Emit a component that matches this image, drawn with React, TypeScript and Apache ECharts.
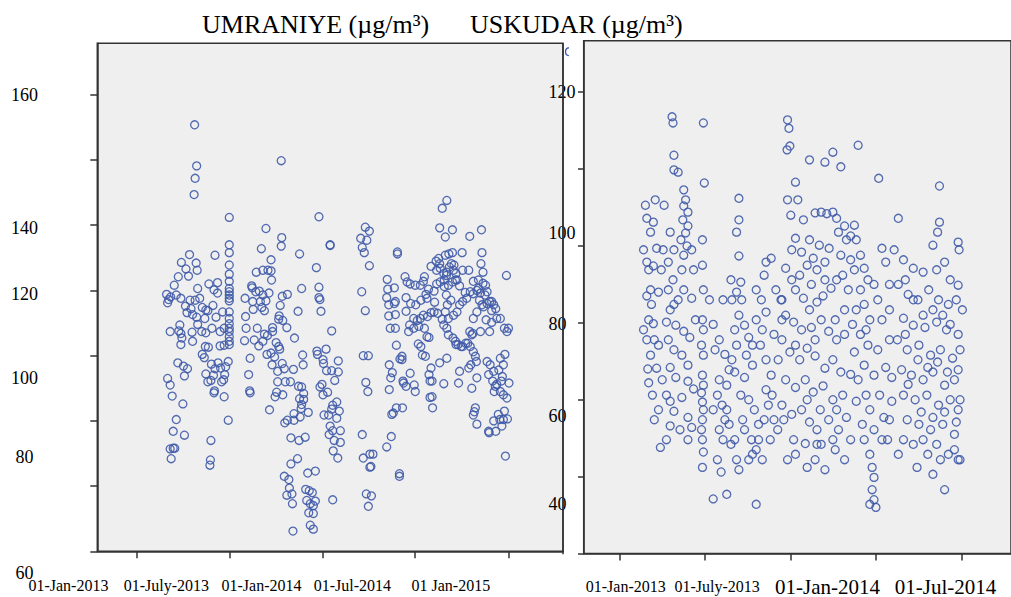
import React, { useEffect, useRef } from "react";
import * as echarts from "echarts";

// x = days since 01-Jan-2013, y = concentration (µg/m³)
const umraniyeReadings: [number, number][] = [
  [113,155.4],[117,149.1],[114,147.2],[112,144.7],[283,149.9],[181,141.2],[253,139.5],[284,138.1],[283,136.8],[244,136.4],
  [181,137.0],[181,135.8],[319,135.6],[103,135.5],[153,135.4],[263,134.7],[87,134.3],[116,134.2],[181,133.9],[96,133.3],
  [118,133.1],[234,132.8],[247,133.1],[257,133.1],[263,133.0],[81,132.1],[101,132.2],[181,132.5],[264,131.6],[181,131.4],
  [141,131.0],[158,131.2],[73,130.8],[225,130.7],[119,130.3],[323,130.3],[181,130.3],[181,129.8],[181,129.3],[181,128.8],
  [181,128.4],[151,130.1],[158,129.6],[58,129.4],[77,129.3],[66,129.0],[226,130.4],[233,129.8],[240,129.9],[247,129.3],
  [259,129.6],[285,129.1],[295,129.4],[212,128.8],[60,128.1],[62,128.6],[86,128.8],[104,128.5],[114,128.5],[123,128.8],
  [227,128.3],[242,128.3],[253,128.4],[281,127.7],[95,127.6],[106,127.2],[128,127.4],[135,127.0],[139,126.9],[149,127.7],
  [245,127.4],[250,126.9],[228,127.1],[168,126.7],[181,126.7],[316,126.8],[98,126.6],[109,126.3],[117,125.9],[133,125.7],
  [155,125.9],[213,126.0],[279,126.1],[278,125.6],[286,125.4],[181,125.7],[181,124.9],[181,124.2],[181,123.7],[181,122.9],
  [181,122.2],[181,121.7],[119,124.8],[84,124.7],[82,123.8],[86,123.4],[65,123.7],[108,123.6],[127,123.7],[135,123.5],
  [214,124.2],[236,124.2],[266,124.3],[266,123.7],[294,124.3],[147,124.2],[163,123.7],[171,124.2],[250,123.3],[256,123.1],
  [309,122.7],[211,122.3],[230,122.4],[88,122.7],[86,121.7],[109,122.2],[134,121.4],[140,121.3],[163,121.5],[171,121.6],
  [239,121.5],[247,122.2],[273,122.0],[278,121.4],[280,121.0],[128,120.2],[132,119.7],[255,120.2],[263,120.4],[270,119.8],
  [325,120.1],[179,119.1],[222,119.6],[80,118.9],[91,118.4],[99,118.0],[146,118.7],[159,118.9],[285,118.8],[289,118.0],
  [265,118.6],[326,118.6],[307,117.9],[153,118.0],[164,118.1],[174,118.3],[276,117.6],[93,116.9],[135,117.2],[150,117.0],
  [172,117.1],[219,117.1],[60,116.5],[65,115.5],[139,116.0],[145,116.2],[166,116.0],[170,116.3],[276,116.0],[291,116.0],
  [301,116.0],[317,115.3],[323,115.2],[221,114.6],[222,114.3],[151,114.3],[152,114.6],[274,114.4],[271,113.7],[286,114.0],
  [69,113.8],[171,113.7],[319,113.4],[327,113.3],[327,114.2],[323,112.5],[90,112.6],[260,111.7],[322,111.9],[336,111.3],
  [308,111.1],[77,110.2],[179,110.1],[290,109.7],[295,110.1],[308,110.1],[320,110.6],[71,108.4],[93,107.8],[145,107.0],
  [302,107.4],[318,107.0],[330,107.5],[65,105.7],[71,105.8],[74,105.8],[67,104.2],[144,104.0],[143,103.2],[315,104.2],
  [302,103.4],[289,101.5],[298,101.0],[335,102.0],[350,102.3],[299,99.7],[294,98.6],[304,98.8],[305,97.3],[331,99.5],
  [338,99.3],[344,99.0],[333,97.8],[340,97.3],[346,97.0],[337,95.9],[350,97.7],[346,95.8],[306,93.1],[340,94.0],[346,93.4],
  [357,141.3],[352,133.5],[357,130.5],[357,128.9],[359,128.6],[361,126.8],[379,137.0],[379,136.9],[382,123.8],[353,120.7],
  [354,120.2],[365,119.4],[366,118.8],[372,117.7],[371,121.0],[382,117.7],[395,119.2],[395,117.5],[388,116.2],[363,115.6],
  [359,115.2],[365,114.0],[374,114.4],[367,110.9],[376,110.9],[392,112.9],[397,111.5],[392,110.4],[384,112.4],[382,111.8],
  [379,109.2],[384,108.5],[377,107.9],[387,107.0],[399,108.5],[399,106.7],[385,105.4],[394,104.3],[384,97.9],
  [448,139.7],[456,139.1],[439,138.0],[451,137.7],[442,136.6],[446,135.8],[456,133.8],[441,129.8],[448,126.9],[444,120.0],
  [454,120.0],[449,115.9],[453,114.5],[442,107.9],[444,104.3],[457,104.9],[463,104.9],[457,102.9],[459,103.0],[450,98.8],
  [460,98.5],[454,96.9],[491,131.7],[492,130.2],[490,128.9],[494,127.8],[494,126.1],[497,124.2],[505,130.4],[507,128.3],
  [507,126.3],[507,124.2],[511,135.9],[511,135.6],[495,118.6],[501,117.4],[498,116.6],[495,114.8],[500,111.0],[503,111.2],
  [509,112.0],[521,112.0],[499,107.6],[490,106.0],[515,101.9],[515,101.5],[509,121.6],[520,119.9],[516,119.5],[520,119.4],
  [523,115.8],[505,128.0],
  [526,132.1],[530,131.3],[536,131.0],[546,130.8],[556,130.8],[564,132.1],[562,131.4],[528,128.9],[528,126.8],[537,128.0],
  [547,127.8],[557,128.5],[569,128.8],[567,129.4],[572,130.2],[583,129.9],[588,131.0],[595,131.3],[611,130.8],[619,131.3],
  [577,133.7],[587,134.5],[588,133.1],[595,133.4],[592,134.9],[594,134.1],[602,132.6],[608,132.8],[605,135.4],[612,135.6],
  [619,135.8],[617,134.1],[622,133.9],[626,132.6],[625,131.6],[639,133.1],[651,133.1],[638,135.8],[619,139.3],[594,139.6],
  [605,138.2],[599,142.6],[608,143.8],[653,138.3],[676,139.3],[677,135.8],[675,134.1],[679,132.8],[670,130.3],[684,130.8],
  [660,129.5],[672,128.5],[680,127.5],[687,128.0],[692,128.3],[696,126.9],[685,125.5],[696,125.1],[692,123.7],[674,123.7],
  [657,123.2],[649,121.9],[639,121.4],[630,121.7],[625,122.2],[620,122.7],[611,123.2],[608,124.2],[602,124.7],[599,125.6],
  [590,126.5],[583,126.7],[584,128.2],[577,126.6],[570,126.0],[562,126.2],[556,125.7],[550,125.4],[543,125.7],[535,124.7],
  [533,123.7],[543,124.2],[553,124.5],[564,124.2],[569,122.9],[573,122.8],[557,121.4],[552,121.8],[560,120.1],[566,119.9],
  [577,118.1],[573,117.1],[575,116.1],[579,116.1],[579,113.7],[575,113.6],[580,112.0],[594,118.9],[608,119.6],[626,121.7],
  [636,121.4],[645,121.9],[653,123.7],[660,125.7],[667,126.7],[677,127.8],[683,129.3],[674,129.6],[667,130.0],[654,129.8],
  [644,129.7],[633,130.7],[628,131.6],[621,133.1],[613,133.6],[607,132.3],[603,131.6],[603,130.6],[607,129.3],[616,128.5],
  [609,127.8],[605,126.7],[611,125.7],[621,126.2],[628,126.7],[633,127.8],[639,128.3],[647,128.8],[660,131.4],[670,131.6],
  [679,131.1],[687,129.8],[696,128.3],[700,127.8],[704,127.2],[706,125.7],[713,125.7],[721,124.2],[726,123.7],[729,124.2],
  [722,120.2],[713,119.6],[719,118.6],[710,117.8],[700,117.6],[693,118.6],[687,119.1],[690,117.1],[698,116.1],[706,115.6],
  [715,116.1],[717,116.8],[703,115.3],[701,114.5],[713,114.5],[719,114.0],[726,113.5],[730,115.8],[721,111.5],[709,111.0],
  [700,110.0],[712,110.2],[719,110.2],[727,110.3],[704,108.4],[716,109.2],[690,108.4],[691,108.2],[723,104.6],[664,112.0],
  [662,111.4],[660,110.9],[667,109.5],[657,115.0],[667,116.6],[655,118.6],[651,118.1],[660,120.6],[664,119.9],[666,119.1],
  [659,123.4],[654,121.4],[633,117.6],[631,115.8],[602,115.7],[528,115.3],[544,115.5],[546,114.5],[536,117.3],[522,116.1],
  [725,132.3],
];

const uskudarReadings: [number, number][] = [
  [111,116.8],[113,116.0],[115,111.8],[115,109.9],[124,109.6],[178,116.0],[180,108.2],[54,105.3],[75,106.0],[94,105.3],
  [136,107.3],[140,106.0],[136,105.2],[145,104.4],[57,103.6],[71,103.1],[65,101.8],[78,99.7],[134,103.4],[145,102.6],
  [140,101.7],[130,100.8],[143,100.0],[136,98.8],[107,101.8],[92,99.5],[103,97.9],[115,99.5],[57,97.9],[71,97.4],
  [65,94.3],[57,93.5],[82,94.0],[113,95.6],[132,96.9],[136,94.3],[124,93.0],[153,93.2],[61,90.4],[71,89.9],
  [57,87.8],[82,87.1],[65,85.8],[78,84.1],[61,82.2],[107,91.7],[99,90.1],[119,89.7],[136,88.9],[149,88.1],
  [103,87.8],[115,86.5],[132,85.8],[145,84.5],[107,84.2],[119,82.9],[145,82.4],[157,81.4],[99,80.6],[107,79.8],
  [115,78.5],[132,80.3],[145,77.7],[153,76.4],[128,76.1],[145,74.8],[73,77.4],[86,73.8],[99,74.8],[107,76.6],
  [50,99.5],[61,96.9],[67,92.4],[50,89.1],[73,87.8],[59,84.0],[69,80.6],[82,78.7],[90,82.6],[103,94.3],
  [115,92.4],[153,99.5],[157,96.9],[161,90.4],[88,96.9],
  [176,100.8],[176,97.5],[178,94.3],[176,90.4],[178,89.1],[174,87.1],[178,85.8],[176,83.2],[178,81.9],[174,80.9],
  [176,79.7],[178,78.7],[176,77.4],[174,76.1],[176,74.8],[178,73.2],[176,71.2],
  [203,86.5],[212,82.6],[208,80.6],[218,79.3],[228,78.7],[224,77.4],[233,76.8],[245,74.8],[220,74.8],[208,72.2],
  [216,70.6],[239,85.2],[249,87.1],[245,89.1],[260,93.0],[254,91.0],[266,89.7],[275,88.1],[270,85.8],[283,84.5],
  [266,82.9],[258,80.6],[275,80.0],[287,78.7],[296,76.8],[266,76.1],[281,74.8],[291,73.5],[254,70.9],[249,72.2],
  [258,95.3],[254,98.7],[249,101.8],[254,106.2],[254,103.4],[245,83.6],[228,81.9],[249,94.0],[239,93.0],[291,94.3],
  [302,93.0],[312,91.4],[304,89.1],[300,87.1],[312,85.2],[323,83.2],[312,81.3],[317,79.3],[329,77.4],[321,74.8],
  [304,72.2],[283,72.9],[333,94.3],[344,93.0],[323,98.4],[312,97.9],[199,67.1],[228,67.7],[291,66.4],
  [191,93.0],[199,89.8],[212,87.8],[224,85.9],[233,83.9],[199,78.7],[212,76.1],[237,74.2],[262,77.4],[275,72.2],
  [296,74.8],[308,77.4],[325,80.6],[338,85.2],[346,90.4],[329,88.5],[308,96.2],[291,90.4],[283,87.1],[220,93.0],
  [237,95.6],
  [358,116.4],[361,115.3],[363,113.0],[357,112.5],[375,108.3],[358,106.0],[365,104.0],[375,101.0],[388,99.2],[400,97.5],
  [413,98.4],[421,96.9],[438,97.9],[405,111.2],[438,110.9],[455,112.2],[472,110.3],[417,104.3],[430,104.4],[442,104.2],
  [455,104.4],[463,103.6],[480,102.6],[467,101.8],[484,100.8],[493,101.3],[354,97.1],[367,95.6],[375,94.3],[346,93.0],
  [392,93.2],[405,91.7],[421,92.7],[434,93.5],[451,94.5],[463,95.6],[476,96.2],[488,94.3],[354,91.0],[371,90.1],
  [388,89.1],[409,89.4],[430,90.4],[446,88.9],[463,87.8],[480,88.5],[346,87.8],[363,86.2],[384,85.2],[400,86.7],
  [417,85.7],[438,84.1],[455,85.2],[472,83.6],[354,82.6],[375,81.6],[396,82.6],[413,81.0],[434,81.8],[455,80.0],
  [476,80.6],[346,79.3],[367,78.1],[388,78.7],[405,77.1],[421,76.1],[446,77.4],[467,76.1],[484,77.7],[371,74.8],
  [396,74.3],[430,74.2],[460,73.5],[337,76.1],[358,72.2],[400,71.2],[438,70.9],[480,72.2],[421,74.2],
  [380,106.0],[392,103.4],[405,100.8],[426,100.1],[447,99.7],[472,98.8],[493,98.2],[367,99.5],[384,96.2],[409,95.0],
  [438,95.6],[480,91.7],[497,89.8],[460,90.4],[417,87.8],[375,87.1],[493,83.3],[400,80.0],[428,78.7],[463,78.7],
  [493,74.8],[350,77.4],[375,72.9],[417,72.2],[455,74.8],
  [509,113.1],[553,108.8],[501,102.7],[505,100.8],[514,98.8],[522,97.1],[501,96.9],[530,95.6],[543,95.0],[560,99.7],
  [568,97.9],[551,93.0],[522,92.4],[505,91.7],[534,90.4],[560,90.4],[576,91.7],[514,88.5],[530,87.1],[551,86.5],
  [576,87.8],[501,86.2],[522,84.5],[543,83.2],[568,84.2],[581,82.9],[509,82.6],[526,80.6],[555,80.6],[581,79.8],
  [505,79.8],[534,78.7],[564,77.7],[518,76.8],[543,76.1],[572,74.8],[522,74.8],[534,72.9],[539,71.2],[543,69.9],
  [539,68.3],[543,67.0],[547,66.0],[534,66.4],[514,94.3],[526,89.1],[576,95.0],[576,77.4],[560,74.8],
  [595,103.6],[683,107.8],[683,103.1],[679,101.8],[669,100.1],[723,100.5],[725,99.5],[606,98.2],[627,97.1],[648,96.6],
  [677,96.9],[694,97.9],[706,95.6],[723,94.9],[595,95.0],[616,93.7],[637,93.0],[660,94.3],[681,93.0],[702,92.4],
  [719,93.0],[732,91.7],[606,90.6],[627,89.7],[652,89.4],[677,90.1],[698,89.1],[723,88.5],[593,87.8],[614,86.5],
  [639,87.1],[664,85.8],[685,86.5],[711,85.4],[727,86.5],[602,83.9],[623,83.2],[648,82.6],[669,83.6],[694,81.9],
  [715,82.6],[606,80.6],[631,80.0],[656,80.6],[681,79.3],[706,80.0],[723,78.7],[614,77.4],[639,76.8],[664,76.1],
  [690,76.8],[715,75.5],[627,74.2],[648,74.8],[677,74.2],[702,72.9],[723,72.2],[635,71.2],[694,68.3],[727,72.2],
  [586,99.5],[610,95.6],[627,93.0],[648,91.0],[669,91.7],[690,91.0],[706,89.8],[610,88.5],[637,85.2],[658,84.2],
  [679,84.9],[700,83.6],[723,83.9],[616,82.0],[644,78.4],[669,77.7],[694,78.4],[719,77.1],[606,74.8],[658,72.9],
  [685,72.2],[715,73.5],[595,72.9],[669,70.3],[727,80.0],
];

// axes
const leftTickDays = [0, 181, 365, 546, 730];
const leftXLabels = ["01-Jan-2013", "01-July-2013", "01-Jan-2014", "01-Jul-2014", "01 Jan-2015"];
const leftXLabelEndDays = [-56.2, 141.2, 322.8, 498.4, 693.1]; // right edge of each label
const rightTickDays = [0, 181, 365, 546, 730];
const rightXLabels = ["01-Jan-2013", "01-July-2013", "01-Jan-2014", "01-Jul-2014"];
const rightXLabelDays = [12, 207.5, 443.7, 695.9];
const leftYTicks = [90, 100, 110, 120, 130, 140, 150, 160];
const leftYLabels = ["160", "140", "120", "100", "80", "60"];
const leftYLabelAt = [160, 139.6, 129.4, 116.6, 104.5, 90];
const rightYTicks = [60, 70, 80, 90, 100, 110, 120];
const rightYLabels = ["120", "100", "80", "60", "40"];
const rightYLabelAt = [120, 101.75, 89.8, 77.9, 66.5];

const FONT = "'Liberation Serif', 'Times New Roman', serif";
const POINT = "#3f5aa9";
const AXIS = "#333333";
const rightXSizes = [16, 16, 21, 21];

function nearest(anchors: number[], v: number) {
  let best = 0;
  for (let i = 1; i < anchors.length; i++) {
    if (Math.abs(anchors[i] - v) < Math.abs(anchors[best] - v)) best = i;
  }
  return best;
}

export default function App() {
  const ref = useRef<HTMLDivElement>(null);
  useEffect(() => {
    const chart = echarts.init(ref.current!, null, { renderer: "svg" });
    const rightRich: any = {};
    rightXSizes.forEach((s, i) => {
      rightRich["x" + i] = { fontSize: s, fontFamily: FONT, color: "#000", lineHeight: 24 };
    });
    const lineStyle = { color: AXIS, width: 1.5 };
    const scatterStyle = {
      color: "rgba(0,0,0,0)",
      borderColor: POINT,
      borderWidth: 1.3,
      opacity: 0.9,
    };
    const titleStyle = { fontFamily: FONT, fontSize: 26, fontWeight: "normal", color: "#000" };
    chart.setOption({
      animation: false,
      title: [
        { text: "UMRANIYE (µg/m³)", left: 202, top: 11, padding: 0, textStyle: titleStyle },
        { text: "USKUDAR (µg/m³)", left: 470, top: 11, padding: 0, textStyle: titleStyle },
      ],
      grid: [
        { left: 97.3, top: 43.3, width: 465.7, height: 511, show: true, backgroundColor: "#efefef", borderColor: AXIS, borderWidth: 1.5 },
        { left: 583.7, top: 40.7, width: 436.1, height: 514.3, show: true, backgroundColor: "#efefef", borderColor: AXIS, borderWidth: 1.5 },
      ],
      xAxis: [
        {
          gridIndex: 0, type: "value", min: -78, max: 836,
          axisLine: { show: true, onZero: false, lineStyle },
          axisTick: { show: true, length: 7, customValues: leftTickDays, lineStyle },
          splitLine: { show: false },
          axisLabel: {
            customValues: leftXLabelEndDays, margin: 21.7, align: "right",
            fontSize: 16, fontFamily: FONT, color: "#000", lineHeight: 24,
            showMinLabel: true, showMaxLabel: true,
            formatter: (v: number) => leftXLabels[nearest(leftXLabelEndDays, v)],
          },
        },
        {
          gridIndex: 1, type: "value", min: -78, max: 836,
          axisLine: { show: true, onZero: false, lineStyle },
          axisTick: { show: true, length: 7, customValues: rightTickDays, lineStyle },
          splitLine: { show: false },
          axisLabel: {
            customValues: rightXLabelDays, margin: 21, rich: rightRich,
            showMinLabel: true, showMaxLabel: true,
            formatter: (v: number) => {
              const i = nearest(rightXLabelDays, v);
              return `{x${i}|${rightXLabels[i]}}`;
            },
          },
        },
      ],
      yAxis: [
        {
          gridIndex: 0, type: "value", min: 90, max: 167.9,
          axisLine: { show: true, onZero: false, lineStyle },
          axisTick: { show: true, length: 7, customValues: leftYTicks, lineStyle },
          splitLine: { show: false },
          axisLabel: {
            customValues: leftYLabelAt, margin: 72.8, align: "center",
            showMinLabel: true, showMaxLabel: true,
            fontSize: 18, fontFamily: FONT, color: "#000",
            rich: { d: { fontSize: 18, fontFamily: FONT, color: "#000", padding: [43, 0, 0, 0] } },
            formatter: (v: number) => {
              const i = nearest(leftYLabelAt, v);
              return i === leftYLabels.length - 1 ? `{d|${leftYLabels[i]}}` : leftYLabels[i];
            },
          },
        },
        {
          gridIndex: 1, type: "value", min: 60, max: 126.7,
          axisLine: { show: true, onZero: false, lineStyle },
          axisTick: { show: true, length: 5.7, customValues: rightYTicks, lineStyle },
          splitLine: { show: false },
          axisLabel: {
            customValues: rightYLabelAt, margin: 35.2, align: "left",
            showMinLabel: true, showMaxLabel: true,
            fontSize: 18, fontFamily: FONT, color: "#000",
            formatter: (v: number) => rightYLabels[nearest(rightYLabelAt, v)],
          },
        },
      ],
      series: [
        {
          type: "scatter", xAxisIndex: 0, yAxisIndex: 0, symbol: "circle", symbolSize: 8,
          itemStyle: scatterStyle, emphasis: { disabled: true }, data: umraniyeReadings,
        },
        {
          type: "scatter", xAxisIndex: 1, yAxisIndex: 1, symbol: "circle", symbolSize: 8,
          itemStyle: scatterStyle, emphasis: { disabled: true }, data: uskudarReadings,
        },
      ],
      graphic: [
        { type: "line", z: 100, shape: { x1: 563, y1: 43.3, x2: 563, y2: 554.3 }, style: { stroke: AXIS, lineWidth: 1.5 } },
        { type: "arc", z: 100, shape: { cx: 569.5, cy: 51.7, r: 4, startAngle: Math.PI * 0.55, endAngle: Math.PI * 1.45 }, style: { stroke: POINT, lineWidth: 1.3, fill: null } },
      ],
    });
    return () => chart.dispose();
  }, []);
  return <div ref={ref} style={{ position: "absolute", left: 0, top: 0, width: 1011, height: 597 }} />;
}
